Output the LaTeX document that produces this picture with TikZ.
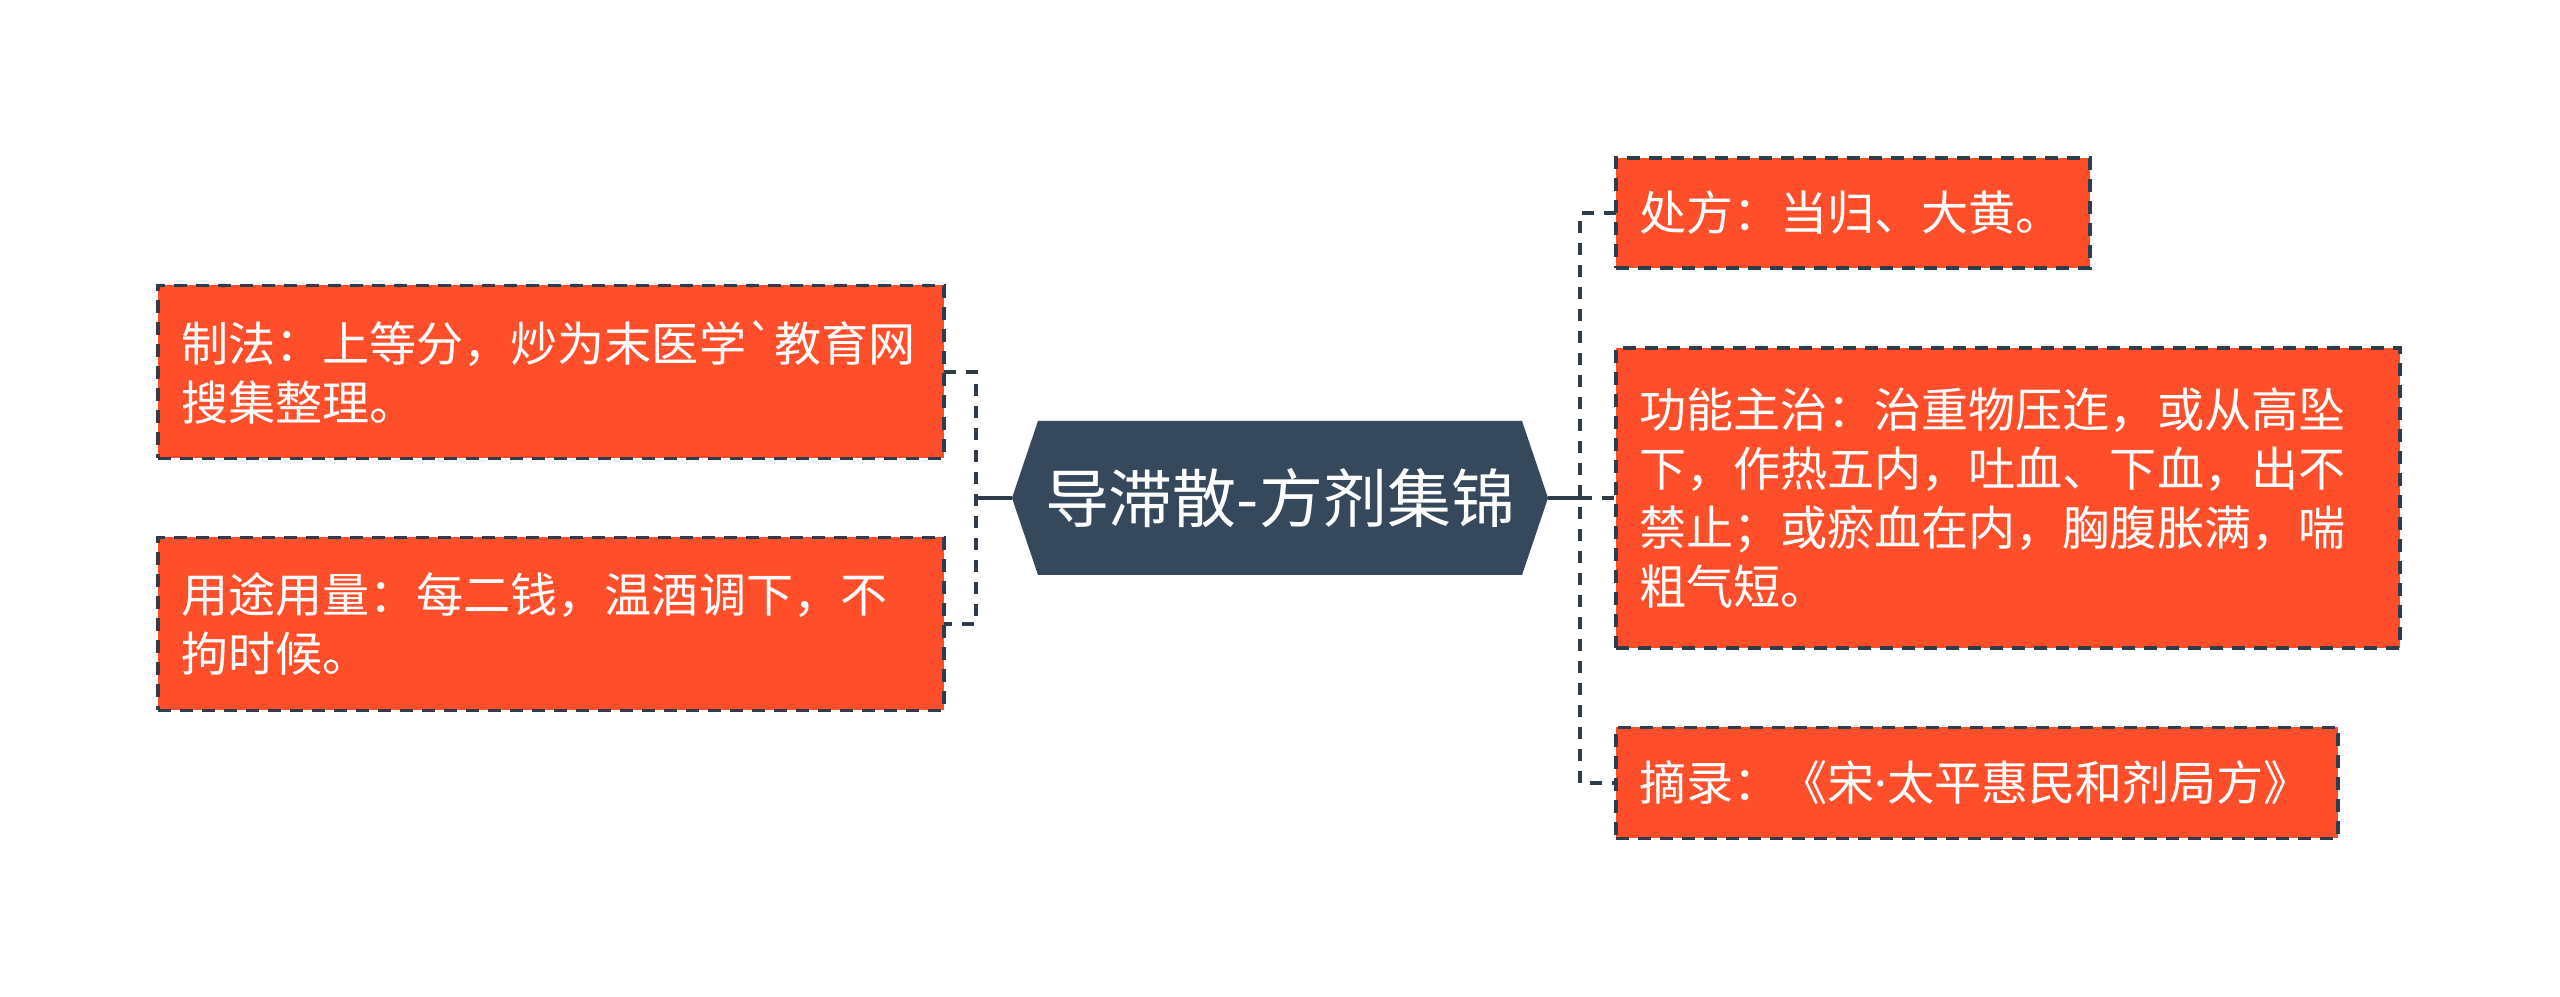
\documentclass[tikz,border=0pt]{standalone}
\usepackage{fontspec}
\newfontfamily\cjk{Noto Sans CJK SC}
\newfontfamily\latin{Noto Sans}
\usetikzlibrary{shapes.symbols}
\definecolor{slate}{RGB}{54,73,92}
\definecolor{tomato}{RGB}{255,78,42}
\definecolor{edge}{RGB}{47,60,74}

\tikzset{
  leaf/.style={rectangle,fill=tomato,draw=edge,line width=0.9pt,
    dash pattern=on 0.13cm off 0.09cm,text=white,align=left,
    inner xsep=0.23cm,inner ysep=0pt,outer sep=0pt,
    font=\cjk\fontsize{13.4pt}{16.8pt}\selectfont},
  link/.style={draw=edge,line width=1.3pt},
  dlink/.style={link,dash pattern=on 0.12cm off 0.1cm}
}

\begin{document}
\begin{tikzpicture}
    \path[fill=white] (0,0) rectangle (25.6,9.97);
    \useasboundingbox (0,0) rectangle (25.6,9.97);
    \node[shape=signal,signal to=east and west,signal pointer angle=142.7,
      fill=slate,text=white,minimum width=5.36cm,minimum height=1.54cm,
      inner sep=0pt,outer sep=0pt,font=\cjk\fontsize{18.2pt}{20pt}\selectfont]
      (root) at (12.80,4.99) {导滞散-方剂集锦};
    \coordinate (lj) at (9.76,4.99);
    \coordinate (rj) at (15.80,4.99);
    \node[leaf,anchor=east,text width=7.40cm,minimum height=1.73cm] (zhifa) at (9.44,6.25)
      {制法：上等分，炒为末医学`教育网\\搜集整理。};
    \node[leaf,anchor=east,text width=7.40cm,minimum height=1.73cm] (yongtu) at (9.44,3.73)
      {用途用量：每二钱，温酒调下，不\\拘时候。};
    \node[leaf,anchor=west,text width=4.28cm,minimum height=1.10cm] (chufang) at (16.16,7.84)
      {处方：当归、大黄。};
    \node[leaf,anchor=west,text width=7.38cm,minimum height=3.00cm] (gongneng) at (16.16,4.99)
      {功能主治：治重物压迮，或从高坠\\下，作热五内，吐血、下血，出不\\禁止；或瘀血在内，胸腹胀满，喘\\粗气短。};
    \node[leaf,anchor=west,text width=6.76cm,minimum height=1.11cm] (zhailu) at (16.16,2.14)
      {摘录：《宋{\latin ·}太平惠民和剂局方》};
    \draw[link] (root.west) -- (lj);
    \draw[dlink] (zhifa.east) -| (lj) |- (yongtu.east);
    \draw[link] (root.east) -- (rj);
    \draw[dlink] (chufang.west) -| (rj) |- (zhailu.west);
    \draw[dlink] (rj) -- (gongneng.west);
\end{tikzpicture}
\end{document}
